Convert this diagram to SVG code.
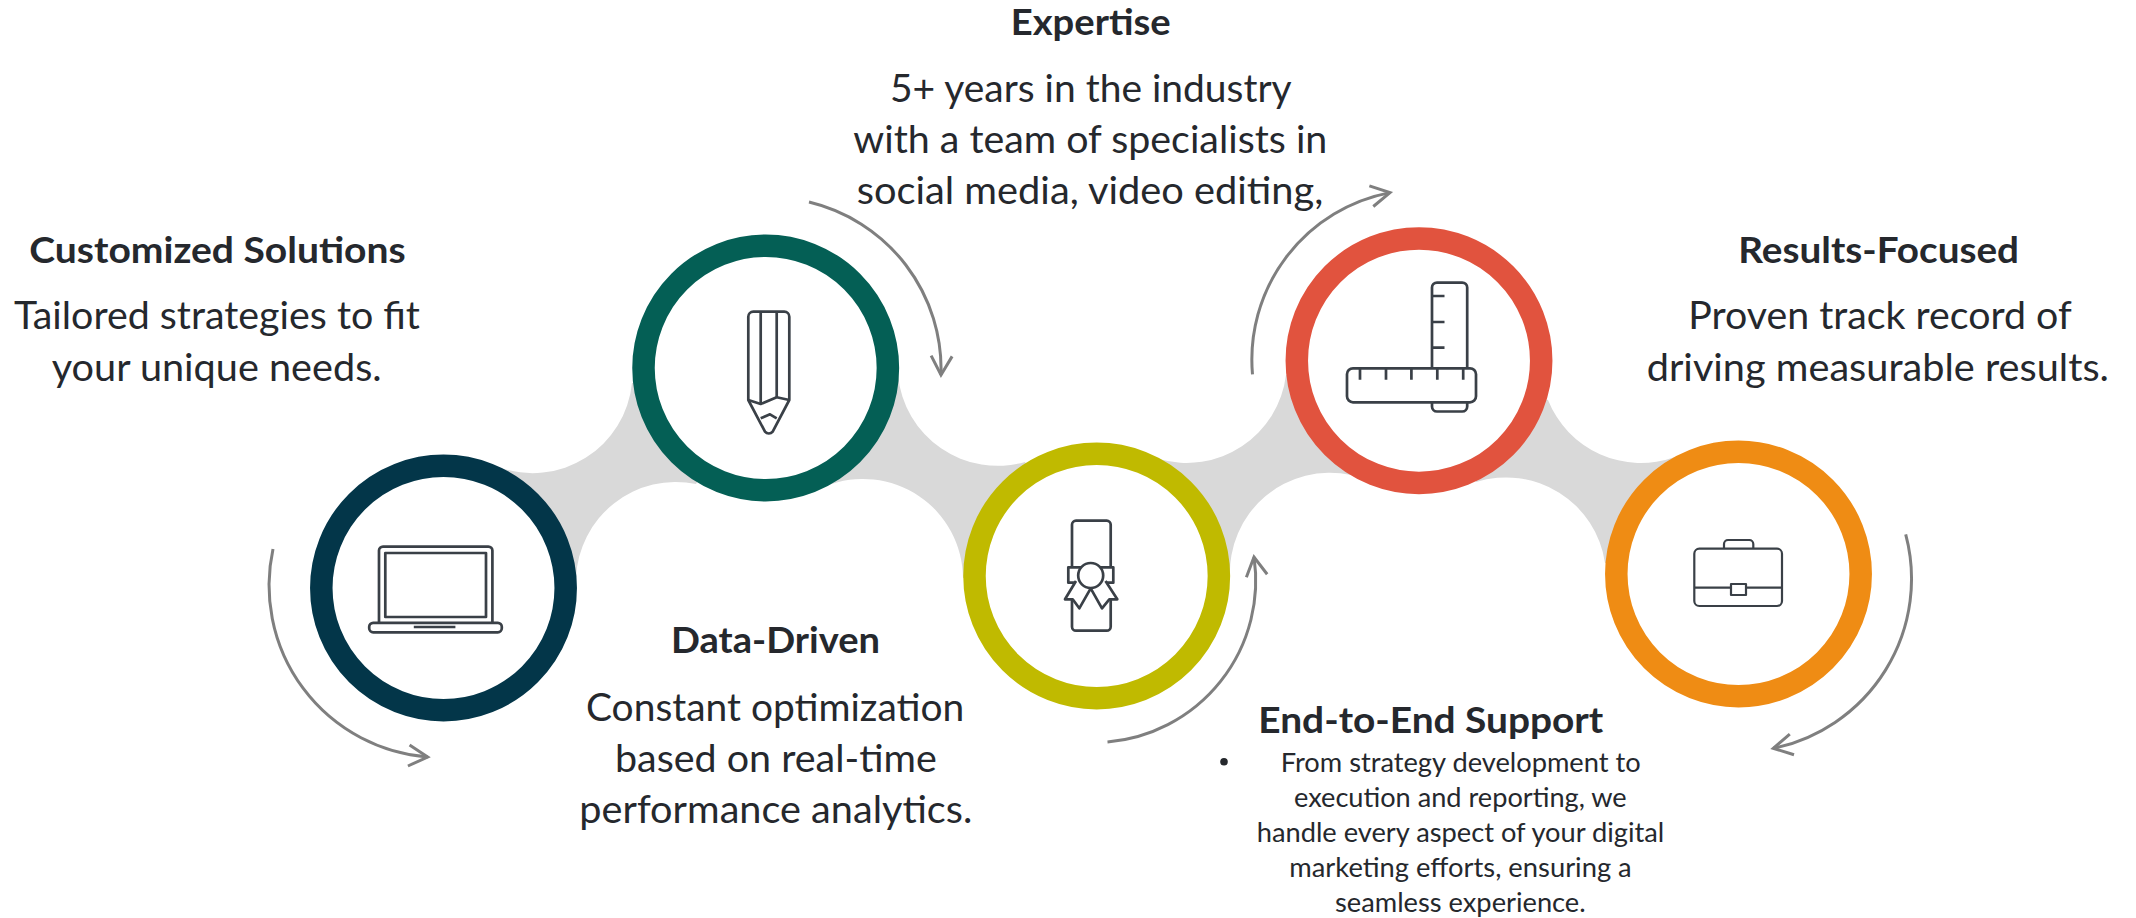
<svg xmlns="http://www.w3.org/2000/svg" width="2136" height="918" viewBox="0 0 2136 918">
<style>
text{font-family:"Lato","Carlito","Open Sans",sans-serif;fill:#25282d}
.h{font-size:36px;font-weight:700}
.b{font-size:38.5px;font-weight:400}
.s{font-size:26.5px;font-weight:400}
.ring{fill:#fff;stroke-width:22.5}
.icon{fill:none;stroke:#3a4047;stroke-width:2.7;stroke-linejoin:round}
.band{fill:#d9d9d9}
.arrow{fill:none;stroke:#7f7f7f;stroke-width:3}
</style>
<defs>
<marker id="head" markerUnits="userSpaceOnUse" viewBox="-22 -13 24 26" markerWidth="24" markerHeight="26" refX="0" refY="0" orient="auto" overflow="visible">
<path d="M-19,-10.5 L0,0 L-19,10.5" fill="none" stroke="#7f7f7f" stroke-width="3"/>
</marker>
</defs>
<rect width="2136" height="918" fill="#fff"/>
<g id="connectors">
<path class="band" d="M498,467 A100,100 0 0 0 632,383 L766,368 L696,484 A100,100 0 0 0 576,578 L444,588 Z"/>
<path class="band" d="M898,375 A100,100 0 0 0 1025,462 L1097,576 L963,578 A100,100 0 0 0 826,486 L766,368 Z"/>
<path class="band" d="M1159,459 A100,100 0 0 0 1286,375 L1419,361 L1351,475 A100,100 0 0 0 1230,578 L1097,576 Z"/>
<path class="band" d="M1548,400 A100,100 0 0 0 1675,457 L1738,574 L1605,563 A100,100 0 0 0 1476,482 L1419,361 Z"/>
<path class="arrow" marker-end="url(#head)" d="M273,549 A172,172 0 0 0 427.7,757"/>
<path class="arrow" marker-end="url(#head)" d="M809,202 A172,172 0 0 1 941,375"/>
<path class="arrow" marker-end="url(#head)" d="M1107.5,742 A162,162 0 0 0 1254,557"/>
<path class="arrow" marker-end="url(#head)" d="M1252.5,374.4 A170,170 0 0 1 1390,192.6"/>
<path class="arrow" marker-end="url(#head)" d="M1905.7,534.3 A173,173 0 0 1 1773.3,748.3"/>
</g>
<g id="node-customized">
<circle class="ring" cx="443.5" cy="588" r="122.2" stroke="#033649"/>
<g class="icon">
<path d="M379,622 V550.6 a4,4 0 0 1 4,-4 H488.4 a4,4 0 0 1 4,4 V622"/>
<rect x="385.3" y="553" width="100.7" height="64"/>
<rect x="369.2" y="622.8" width="132.6" height="9.5" rx="4"/>
<path d="M413.8,627 H455.4"/>
</g>
<text class="h" x="29.3" y="262.7" textLength="376.4" lengthAdjust="spacingAndGlyphs">Customized Solutions</text>
<text class="b" x="14" y="329.3" textLength="406" lengthAdjust="spacingAndGlyphs">Tailored strategies to fit</text>
<text class="b" x="51.7" y="381.3" textLength="330" lengthAdjust="spacingAndGlyphs">your unique needs.</text>
</g>
<g id="node-data">
<circle class="ring" cx="765.7" cy="368" r="122.2" stroke="#045f55"/>
<g class="icon">
<path d="M748.3,400 V316.7 a5,5 0 0 1 5,-5 H784.3 a5,5 0 0 1 5,5 V400 L772.7,431.7 a5,5 0 0 1 -7.7,0 Z"/>
<path d="M760.7,311.7 V404 M776.7,311.7 V397.3"/>
<path d="M748.3,400 L760.7,404 L776.7,397.3 L789.3,400"/>
<path d="M760.7,418.3 L770,414.3 L776.7,418.3"/>
</g>
<text class="h" x="671" y="653.3" textLength="209" lengthAdjust="spacingAndGlyphs">Data-Driven</text>
<text class="b" x="586" y="720.7" textLength="378.3" lengthAdjust="spacingAndGlyphs">Constant optimization</text>
<text class="b" x="615" y="772.3" textLength="321.7" lengthAdjust="spacingAndGlyphs">based on real-time</text>
<text class="b" x="579.3" y="823.3" textLength="393" lengthAdjust="spacingAndGlyphs">performance analytics.</text>
</g>
<g id="node-expertise">
<circle class="ring" cx="1096.7" cy="576" r="122.2" stroke="#c0ba00"/>
<g class="icon">
<path d="M1072,567.3 V524.7 a4,4 0 0 1 4,-4 H1106.7 a4,4 0 0 1 4,4 V567.3"/>
<path d="M1072,599.3 V626.7 a4,4 0 0 0 4,4 H1106.7 a4,4 0 0 0 4,-4 V599.3"/>
<path d="M1075,582.7 H1068.3 V567.3 H1113.3 V582.7 H1106"/>
<path d="M1076,581 L1065,599.3 L1072.7,599.3 L1079.3,608.3 L1090.7,588.3 L1102,608.3 L1109.3,599.3 L1117.3,599.3 L1105.5,581" fill="#fff"/>
<circle cx="1090.7" cy="575.5" r="12.5" fill="#fff"/>
</g>
<text class="h" x="1010.7" y="35" textLength="160" lengthAdjust="spacingAndGlyphs">Expertise</text>
<text class="b" x="890" y="101.7" textLength="401.7" lengthAdjust="spacingAndGlyphs">5+ years in the industry</text>
<text class="b" x="853.3" y="152.7" textLength="474" lengthAdjust="spacingAndGlyphs">with a team of specialists in</text>
<text class="b" x="856.7" y="204" textLength="466.6" lengthAdjust="spacingAndGlyphs">social media, video editing,</text>
</g>
<g id="node-results">
<circle class="ring" cx="1419" cy="360.7" r="122.2" stroke="#e1533e"/>
<g class="icon">
<path d="M1432,368.3 V287.6 a5,5 0 0 1 5,-5 H1462.2 a5,5 0 0 1 5,5 V368.3"/>
<path d="M1432,402.3 V406.5 a5,5 0 0 0 5,5 H1462.2 a5,5 0 0 0 5,-5 V402.3"/>
<path d="M1432,296 H1444.5 M1432,322 H1444.5 M1432,347.6 H1444.5"/>
<rect x="1347" y="368.3" width="129" height="34" rx="6"/>
<path d="M1360,368.3 V379.8 M1386,368.3 V379.8 M1411.4,368.3 V379.8 M1437.3,368.3 V379.8 M1463.2,368.3 V379.8"/>
</g>
<text class="h" x="1738.3" y="262.7" textLength="280.7" lengthAdjust="spacingAndGlyphs">Results-Focused</text>
<text class="b" x="1688.3" y="329.3" textLength="383.4" lengthAdjust="spacingAndGlyphs">Proven track record of</text>
<text class="b" x="1646.7" y="381.3" textLength="462.3" lengthAdjust="spacingAndGlyphs">driving measurable results.</text>
</g>
<g id="node-support">
<circle class="ring" cx="1738.5" cy="574" r="122.2" stroke="#ef8c14"/>
<g class="icon" style="stroke-width:2.2">
<rect x="1694.3" y="548.7" width="87.7" height="57.3" rx="5"/>
<path d="M1724,548.7 V544 a4,4 0 0 1 4,-4 H1749.3 a4,4 0 0 1 4,4 V548.7"/>
<path d="M1694.3,587.7 H1731 M1746,587.7 H1782"/>
<rect x="1731" y="584" width="15" height="11"/>
</g>
<text class="h" x="1258.3" y="732.7" textLength="345" lengthAdjust="spacingAndGlyphs">End-to-End Support</text>
<circle cx="1224" cy="761.7" r="3.8" fill="#25282d"/>
<text class="s" x="1280.7" y="771.7" textLength="360" lengthAdjust="spacingAndGlyphs">From strategy development to</text>
<text class="s" x="1294" y="806.7" textLength="332.7" lengthAdjust="spacingAndGlyphs">execution and reporting, we</text>
<text class="s" x="1256.7" y="841.7" textLength="407.6" lengthAdjust="spacingAndGlyphs">handle every aspect of your digital</text>
<text class="s" x="1289.3" y="876.7" textLength="342.4" lengthAdjust="spacingAndGlyphs">marketing efforts, ensuring a</text>
<text class="s" x="1335" y="911.7" textLength="250.7" lengthAdjust="spacingAndGlyphs">seamless experience.</text>
</g>
</svg>
